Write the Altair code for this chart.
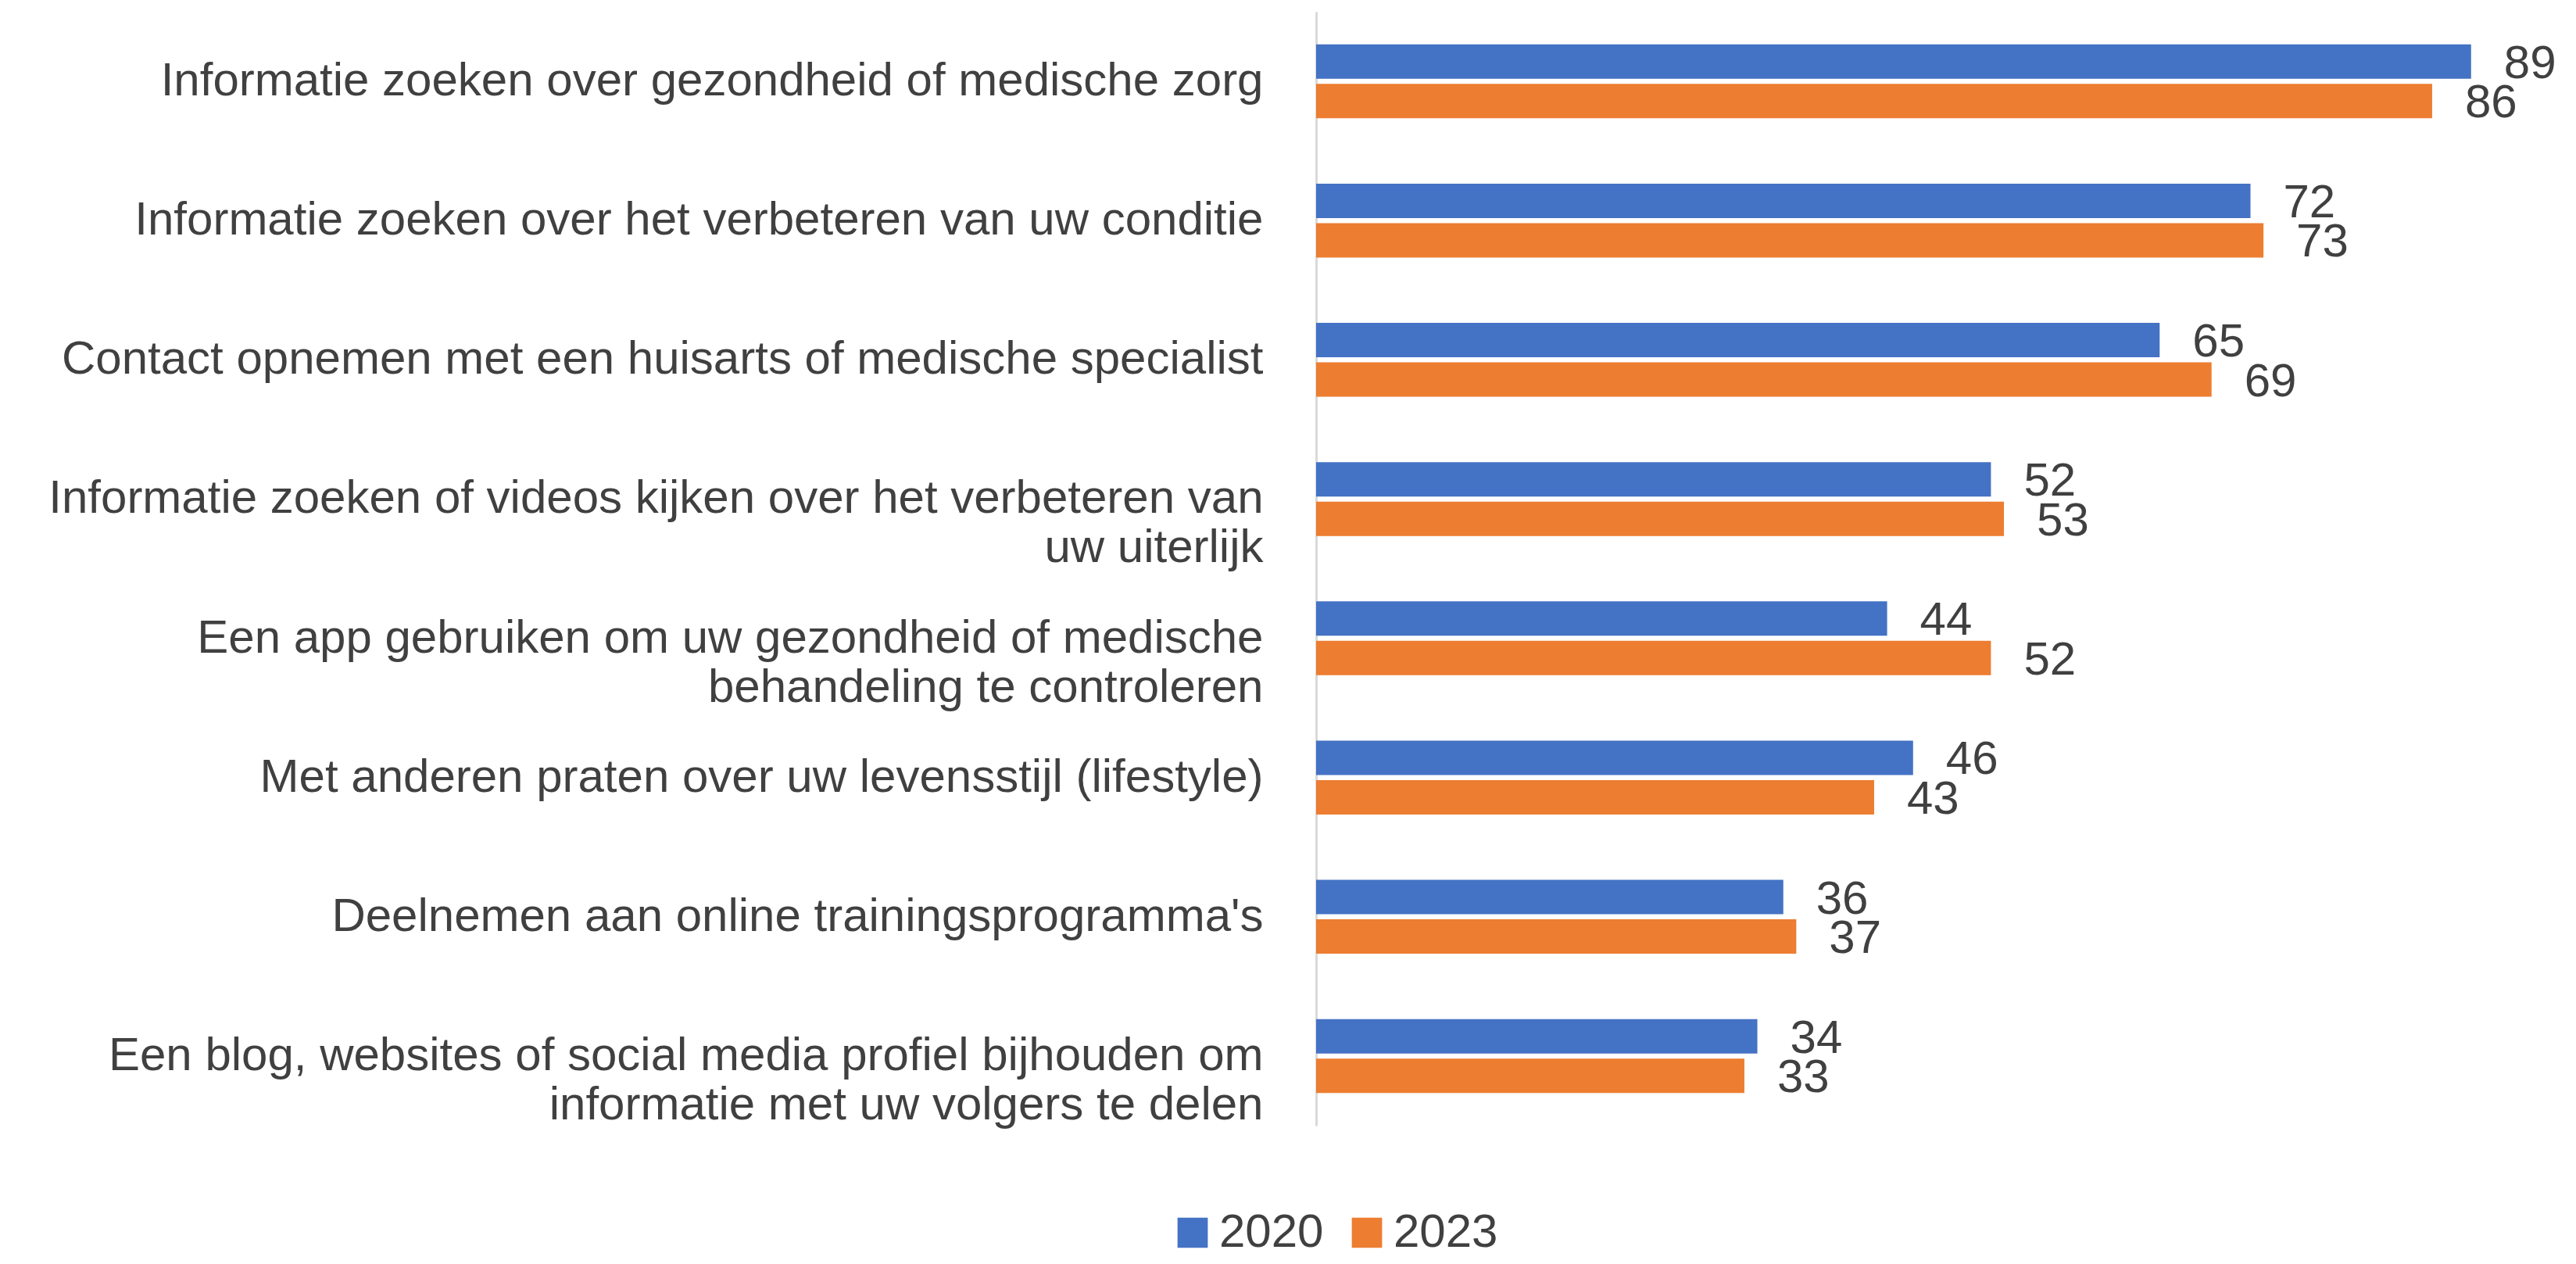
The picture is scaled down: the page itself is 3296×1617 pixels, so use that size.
import altair as alt
import pandas as pd

categories = [
    "Informatie zoeken over gezondheid of medische zorg",
    "Informatie zoeken over het verbeteren van uw conditie",
    "Contact opnemen met een huisarts of medische specialist",
    "Informatie zoeken of videos kijken over het verbeteren van|uw uiterlijk",
    "Een app gebruiken om uw gezondheid of medische|behandeling te controleren",
    "Met anderen praten over uw levensstijl (lifestyle)",
    "Deelnemen aan online trainingsprogramma's",
    "Een blog, websites of social media profiel bijhouden om|informatie met uw volgers te delen",
]
years = ["2020", "2023"]
values_2020 = [89, 72, 65, 52, 44, 46, 36, 34]
values_2023 = [86, 73, 69, 53, 52, 43, 37, 33]
colors = ["#4472C4", "#ED7D31"]

rows = []
for c, v in zip(categories, values_2020):
    rows.append({"cat": c, "year": "2020", "value": v})
for c, v in zip(categories, values_2023):
    rows.append({"cat": c, "year": "2023", "value": v})
df = pd.DataFrame(rows)

FONT = "Liberation Sans"
FS = 60
TXT = "#404040"

y_enc = alt.Y(
    "cat:N",
    sort=categories,
    scale=alt.Scale(paddingInner=0.47, paddingOuter=0.235),
    axis=alt.Axis(
        title=None,
        ticks=False,
        grid=False,
        domain=True,
        domainColor="#d9d9d9",
        domainWidth=3,
        labelPadding=68,
        labelLimit=2000,
        labelFont=FONT,
        labelFontSize=FS,
        labelColor=TXT,
        labelLineHeight=63,
        labelExpr="split(datum.value, '|')",
    ),
)
x_enc = alt.X("value:Q", scale=alt.Scale(domain=[0, 96], nice=False), axis=None)
yoff = alt.YOffset("year:N", sort=years, scale=alt.Scale(paddingInner=0.13, paddingOuter=0))

bars = alt.Chart(df).mark_bar().encode(
    y=y_enc,
    x=x_enc,
    yOffset=yoff,
    color=alt.Color(
        "year:N",
        sort=years,
        scale=alt.Scale(domain=years, range=colors),
        legend=alt.Legend(
            title=None,
            orient="none",
            legendX=-188,
            legendY=1532,
            direction="horizontal",
            symbolType="square",
            symbolSize=1500,
            symbolStrokeWidth=0,
            labelFont=FONT,
            labelFontSize=FS,
            labelColor=TXT,
            labelOffset=4,
            columnPadding=25,
        ),
    ),
)

labels = alt.Chart(df).mark_text(
    align="left", baseline="middle", dx=42, dy=3, font=FONT, fontSize=FS, color=TXT
).encode(
    y=alt.Y("cat:N", sort=categories),
    x=alt.X("value:Q"),
    yOffset=alt.YOffset("year:N", sort=years),
    text=alt.Text("value:Q"),
)

chart = (
    alt.layer(bars, labels)
    .properties(
        width=1594,
        height=1425,
        padding={"left": 1676, "top": 7, "right": 10, "bottom": 177},
        autosize=alt.AutoSizeParams(type="none"),
    )
    .configure_view(stroke=None)
)

chart.save("out.html", embed_options={"renderer": "svg", "actions": False})
